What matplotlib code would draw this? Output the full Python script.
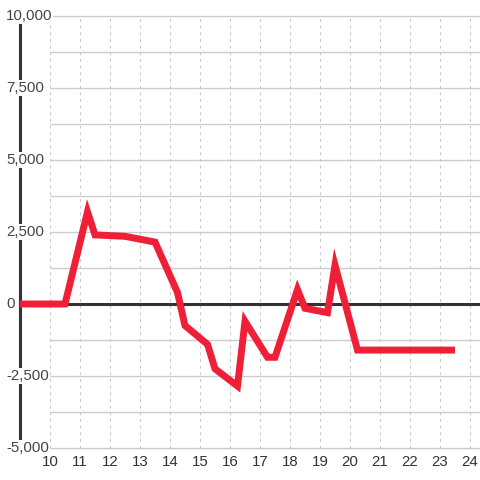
import matplotlib
matplotlib.use("Agg")
import matplotlib.pyplot as plt

# --- data ---
hours = [9, 10.5, 11.25, 11.5, 12.5, 13.25, 13.5, 14.25, 14.5, 15.25, 15.5,
         16.25, 16.5, 17.25, 17.5, 18.25, 18.5, 19.25, 19.5, 20.25, 23.5]
values = [0, 0, 3200, 2400, 2350, 2200, 2150, 400, -750, -1400, -2250,
          -2850, -600, -1850, -1850, 500, -150, -300, 1350, -1600, -1600]

x_ticks = list(range(10, 25))
y_grid = [-5000, -3750, -2500, -1250, 0, 1250, 2500, 3750, 5000, 6250, 7500, 8750, 10000]
y_ticks = [-5000, -2500, 0, 2500, 5000, 7500, 10000]
y_labels = ["-5,000", "-2,500", "0", "2,500", "5,000", "7,500", "10,000"]

plt.rcParams['font.family'] = ['Liberation Sans', 'DejaVu Sans']

fig = plt.figure(figsize=(4.8, 4.8), dpi=100)
ax = fig.add_axes([0, 0, 1, 1])
ax.axis('off')
ax.set_xlim(10 - 50 / 30, 10 + 430 / 30)
ax.set_ylim(-176 / 28.8 * 1000, 304 / 28.8 * 1000)
x_max = ax.get_xlim()[1]

# grid
ax.hlines([g for g in y_grid if g != 0], 10, x_max, color='#cccccc', lw=1, zorder=1)
ax.vlines(x_ticks, y_grid[0], y_grid[-1], color='#c8c8c8', lw=0.8,
          linestyles=(0, (2.5, 3.5)), zorder=1)

# axis lines
ax.hlines(0, 9, x_max, color='#333333', lw=2.2, zorder=2)
ax.vlines(9, y_grid[0], y_grid[-1], color='#333333', lw=2.2, zorder=2)

# series
ax.plot(hours, values, color='#ee1f36', lw=5, solid_joinstyle='miter',
        solid_capstyle='butt', zorder=3)

# tick labels
for v, lab in zip(y_ticks, y_labels):
    ax.text(10 - 44 / 30, v, lab, ha='left', va='center', fontsize=10.8,
            color='#444444', zorder=4,
            bbox=dict(facecolor='white', edgecolor='none', pad=0.5))
for t in x_ticks:
    ax.text(t, -5000 - 14 / 28.8 * 1000, str(t), ha='center', va='center',
            fontsize=10.8, color='#333333', zorder=4)

fig.savefig("out.png", dpi=100)
